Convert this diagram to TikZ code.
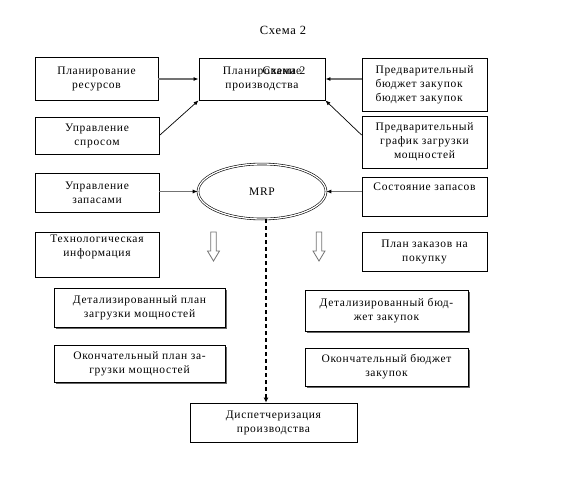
\documentclass[tikz,border=0pt]{standalone}
\usepackage{fontspec}
\setmainfont{Liberation Serif}[LetterSpace=6]
\usetikzlibrary{shapes.geometric,shadows,arrows.meta,calc}
\begin{document}
\begin{tikzpicture}[x=1pt,y=-1pt,
  every node/.style={font=\fontsize{11.5}{14}\selectfont},
  box/.style={draw, line width=0.8pt, inner sep=0pt, align=center},
  sbox/.style={box, fill=white, drop shadow={shadow xshift=2pt, shadow yshift=-2pt, fill=black!60, opacity=1}},
  link/.style={draw=black!55, line width=1.1pt, -{Latex[length=5pt,width=4pt,color=black]}},
  dlink/.style={draw=black, line width=0.7pt, -{Latex[length=5pt,width=4pt]}},
  hollow/.style={draw=black!55, line width=0.8pt, fill=white}]
\useasboundingbox (0,0) rectangle (563,479);

\node (title) at (283,30) {\fontsize{12.5}{14}\selectfont Схема 2};

% left column
\node[box, minimum width=123, minimum height=43] (b1) at (96.5,78.5) {Планирование\\ресурсов};
\node[box, minimum width=124, minimum height=37] (b2) at (97,135.5) {Управление\\спросом};
\node[box, minimum width=124, minimum height=39] (b3) at (97,192.5) {Управление\\запасами};
\node[box, minimum width=124, minimum height=45] (b4) at (97,254.5) {Технологическая\\информация\\[3pt]};

% centre
\node[box, minimum width=126, minimum height=42] (c) at (262,79) {Планирование\\производства};
\node (cover) at (284,71) {Схема 2};
\node[ellipse, draw, double, double distance=1.3pt, line width=0.6pt,
      minimum width=128, minimum height=55, inner sep=0pt] (m) at (262,191.5) {MRP};

% right column
\node[box, minimum width=125, minimum height=53, align=left] (r1) at (424.5,84.5) {Предварительный\\бюджет закупок\\бюджет закупок};
\node[box, minimum width=125, minimum height=52] (r2) at (424.5,142) {Предварительный\\график загрузки\\мощностей};
\node[box, minimum width=125, minimum height=39] (r3) at (424.5,196.5) {Состояние запасов\\[6pt]};
\node[box, minimum width=125, minimum height=39] (r4) at (424.5,251.5) {План заказов на\\покупку};

% lower boxes with shadows
\node[sbox, minimum width=171, minimum height=39] (dl1) at (139.5,307.5) {Детализированный план\\загрузки мощностей};
\node[sbox, minimum width=171, minimum height=37] (dl2) at (139.5,363.5) {Окончательный план за-\\грузки мощностей};
\node[sbox, minimum width=163, minimum height=41] (dr1) at (386.5,310.5) {Детализированный бюд-\\жет закупок};
\node[sbox, minimum width=163, minimum height=38] (dr2) at (386.5,367) {Окончательный бюджет\\закупок};
\node[box, minimum width=167, minimum height=39] (d) at (273.5,422.5) {Диспетчеризация\\производства};

% connectors
\draw[link] (b1.east |- c.west) -- (c.west);
\draw[dlink] (b2.east) -- (c.south west);
\draw[link] (b3.east |- m.west) -- (m.west);
\draw[link] (r1.west |- c.east) -- (c.east);
\draw[dlink] ($(r2.west)+(0,-7)$) -- (c.south east);
\draw[link] (r3.west |- m.east) -- (m.east);

\coordinate (ms) at ($(m.south)+(4,0)$);
\draw[line width=2pt, dash pattern=on 4pt off 3pt, -{Latex[length=5pt,width=5pt]}] (ms) -- (ms |- d.north);

% hollow down arrows
\draw[hollow] (210.8,232) -- (216.2,232) -- (216.2,251) -- (219.5,251) -- (213.5,261) -- (207.5,251) -- (210.8,251) -- cycle;
\draw[hollow] (316.3,232) -- (321.7,232) -- (321.7,251) -- (325,251) -- (319,261) -- (313,251) -- (316.3,251) -- cycle;
\end{tikzpicture}
\end{document}
